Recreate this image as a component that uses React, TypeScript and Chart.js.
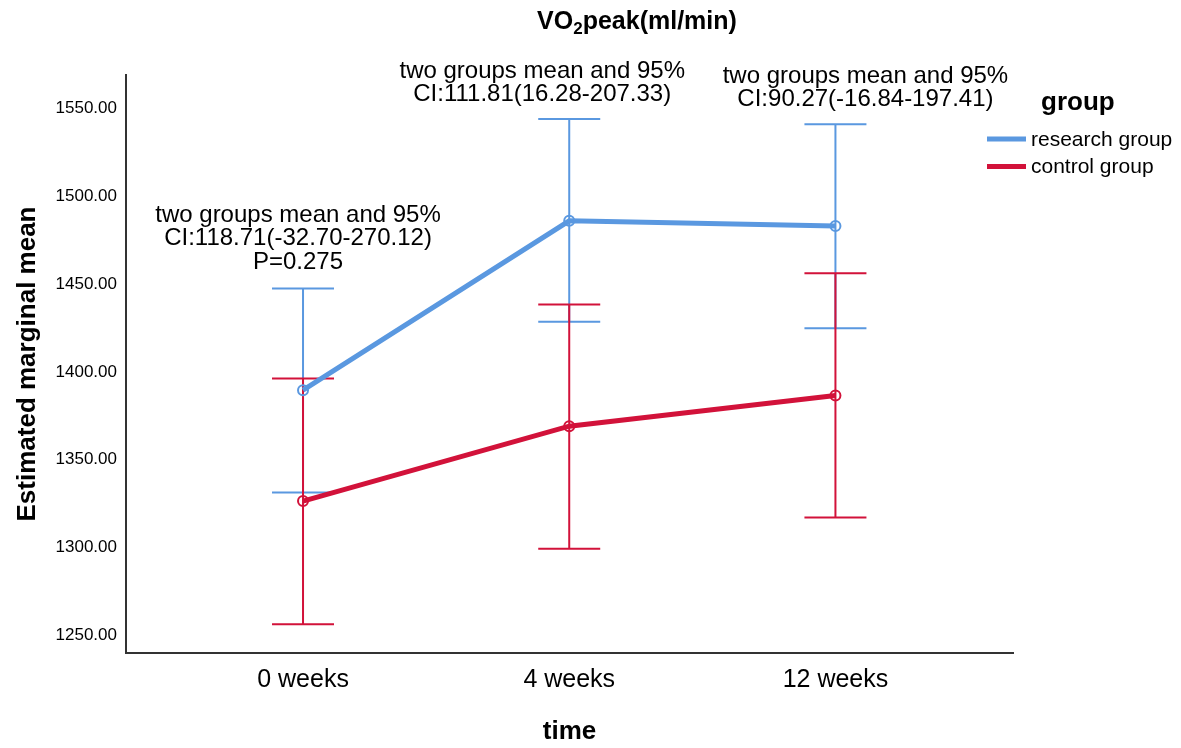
import React, { useEffect, useRef } from "react";
import { Chart, registerables } from "chart.js";

Chart.register(...registerables);

const timeLabels = ["0 weeks", "4 weeks", "12 weeks"];
const seriesNames = ["research group", "control group"];
const researchMean = [1389.6, 1486.0, 1483.0];
const researchLower = [1331.3, 1428.5, 1424.9];
const researchUpper = [1447.5, 1543.9, 1540.9];
const controlMean = [1326.5, 1369.1, 1386.6];
const controlLower = [1256.3, 1299.4, 1317.1];
const controlUpper = [1396.2, 1438.4, 1456.2];
const yTicks = [1250, 1300, 1350, 1400, 1450, 1500, 1550];
const annotationLines = [
  ["two groups mean and 95%", "CI:118.71(-32.70-270.12)", "P=0.275"],
  ["two groups mean and 95%", "CI:111.81(16.28-207.33)"],
  ["two groups mean and 95%", "CI:90.27(-16.84-197.41)"],
];
const titleParts = ["VO", "2", "peak(ml/min)"];
const legendTitle = "group";
const yTitle = "Estimated marginal mean";
const xTitle = "time";

const BLUE = "#5A98E0";
const RED = "#D2123A";
const FONT = "'Liberation Sans', Arial, sans-serif";

export default function App() {
  const ref = useRef<HTMLCanvasElement | null>(null);

  useEffect(() => {
    const canvas = ref.current;
    if (!canvas) return;

    const errorBars = {
      id: "errorBars",
      beforeDatasetsDraw(chart: any) {
        const ctx = chart.ctx;
        const xs = chart.scales.x;
        const ys = chart.scales.y;
        const groups = [
          { lo: researchLower, hi: researchUpper, color: BLUE },
          { lo: controlLower, hi: controlUpper, color: RED },
        ];
        ctx.save();
        ctx.lineWidth = 2;
        ctx.lineCap = "butt";
        for (const g of groups) {
          ctx.strokeStyle = g.color;
          for (let i = 0; i < timeLabels.length; i++) {
            const x = xs.getPixelForValue(i);
            const yl = ys.getPixelForValue(g.lo[i]);
            const yu = ys.getPixelForValue(g.hi[i]);
            ctx.beginPath();
            ctx.moveTo(x, yl);
            ctx.lineTo(x, yu);
            ctx.moveTo(x - 31, yl);
            ctx.lineTo(x + 31, yl);
            ctx.moveTo(x - 31, yu);
            ctx.lineTo(x + 31, yu);
            ctx.stroke();
          }
        }
        ctx.restore();
      },
    };

    const texts = {
      id: "texts",
      afterDraw(chart: any) {
        const ctx = chart.ctx;
        const xs = chart.scales.x;
        ctx.save();
        ctx.fillStyle = "#000";

        // Title
        const big = `bold 25px ${FONT}`;
        const small = `bold 17px ${FONT}`;
        ctx.font = big;
        const w0 = ctx.measureText(titleParts[0]).width;
        const w2 = ctx.measureText(titleParts[2]).width;
        ctx.font = small;
        const w1 = ctx.measureText(titleParts[1]).width;
        let tx = 637 - (w0 + w1 + w2) / 2;
        const base = 29;
        ctx.textAlign = "left";
        ctx.textBaseline = "alphabetic";
        ctx.font = big;
        ctx.fillText(titleParts[0], tx, base);
        tx += w0;
        ctx.font = small;
        ctx.fillText(titleParts[1], tx, base + 5);
        tx += w1;
        ctx.font = big;
        ctx.fillText(titleParts[2], tx, base);

        // Annotations
        ctx.font = `24px ${FONT}`;
        ctx.textAlign = "center";
        ctx.textBaseline = "middle";
        const annPos = [
          { dx: -5, y: 215 },
          { dx: -27, y: 71 },
          { dx: 30, y: 76 },
        ];
        annotationLines.forEach((lines, i) => {
          const cx = xs.getPixelForValue(i) + annPos[i].dx;
          lines.forEach((t, j) => {
            ctx.fillText(t, cx, annPos[i].y + j * 23.7);
          });
        });

        // Legend
        ctx.textAlign = "left";
        ctx.font = `bold 26px ${FONT}`;
        ctx.fillText(legendTitle, 1041, 103);
        const colors = [BLUE, RED];
        ctx.font = `21px ${FONT}`;
        seriesNames.forEach((name, i) => {
          const y = 139 + i * 27.5;
          ctx.strokeStyle = colors[i];
          ctx.lineWidth = 5;
          ctx.beginPath();
          ctx.moveTo(987, y);
          ctx.lineTo(1026, y);
          ctx.stroke();
          ctx.fillStyle = "#000";
          ctx.fillText(name, 1031, y + 1);
        });
        ctx.restore();
      },
    };

    const chart = new Chart(canvas, {
      type: "line",
      data: {
        datasets: [
          {
            label: seriesNames[0],
            data: researchMean.map((v, i) => ({ x: i, y: v })),
            borderColor: BLUE,
            borderWidth: 5,
            pointRadius: 5,
            pointBorderWidth: 2,
            pointBorderColor: BLUE,
            pointBackgroundColor: "rgba(0,0,0,0)",
            tension: 0,
          },
          {
            label: seriesNames[1],
            data: controlMean.map((v, i) => ({ x: i, y: v })),
            borderColor: RED,
            borderWidth: 5,
            pointRadius: 5,
            pointBorderWidth: 2,
            pointBorderColor: RED,
            pointBackgroundColor: "rgba(0,0,0,0)",
            tension: 0,
          },
        ],
      },
      options: {
        responsive: false,
        animation: false,
        devicePixelRatio: 1,
        layout: { padding: { left: 0, top: 75, right: 168, bottom: 0 } },
        plugins: {
          legend: { display: false },
          tooltip: { enabled: false },
          title: { display: false },
        },
        scales: {
          x: {
            type: "linear",
            min: -0.665,
            max: 2.667,
            grid: { display: false, drawTicks: false },
            border: { display: true, color: "#333", width: 2 },
            afterBuildTicks: (s: any) => {
              s.ticks = timeLabels.map((_, i) => ({ value: i }));
            },
            afterFit: (s: any) => {
              s.height = 95;
            },
            ticks: {
              autoSkip: false,
              maxRotation: 0,
              padding: 12,
              color: "#000",
              font: { family: FONT, size: 25 },
              callback: (v: any) => timeLabels[v] ?? "",
            },
            title: {
              display: true,
              text: xTitle,
              color: "#000",
              font: { family: FONT, size: 26, weight: "bold", lineHeight: 1 },
              padding: { top: 0, bottom: 3 },
            },
          },
          y: {
            type: "linear",
            min: 1240,
            max: 1569,
            grid: { display: false, drawTicks: false },
            border: { display: true, color: "#333", width: 2 },
            afterBuildTicks: (s: any) => {
              s.ticks = yTicks.map((v) => ({ value: v }));
            },
            afterFit: (s: any) => {
              s.width = 126;
            },
            ticks: {
              padding: 9,
              color: "#000",
              font: { family: FONT, size: 17 },
              callback: (v: any) => Number(v).toFixed(2),
            },
            title: {
              display: true,
              text: yTitle,
              color: "#000",
              font: { family: FONT, size: 26, weight: "bold", lineHeight: 1 },
              padding: { top: 15, bottom: 0 },
            },
          },
        },
      },
      plugins: [errorBars, texts],
    } as any);

    return () => chart.destroy();
  }, []);

  return (
    <div style={{ position: "absolute", left: 0, top: 0, width: 1181, height: 748, background: "#fff" }}>
      <canvas ref={ref} width={1181} height={748} style={{ width: 1181, height: 748, display: "block" }} />
    </div>
  );
}
